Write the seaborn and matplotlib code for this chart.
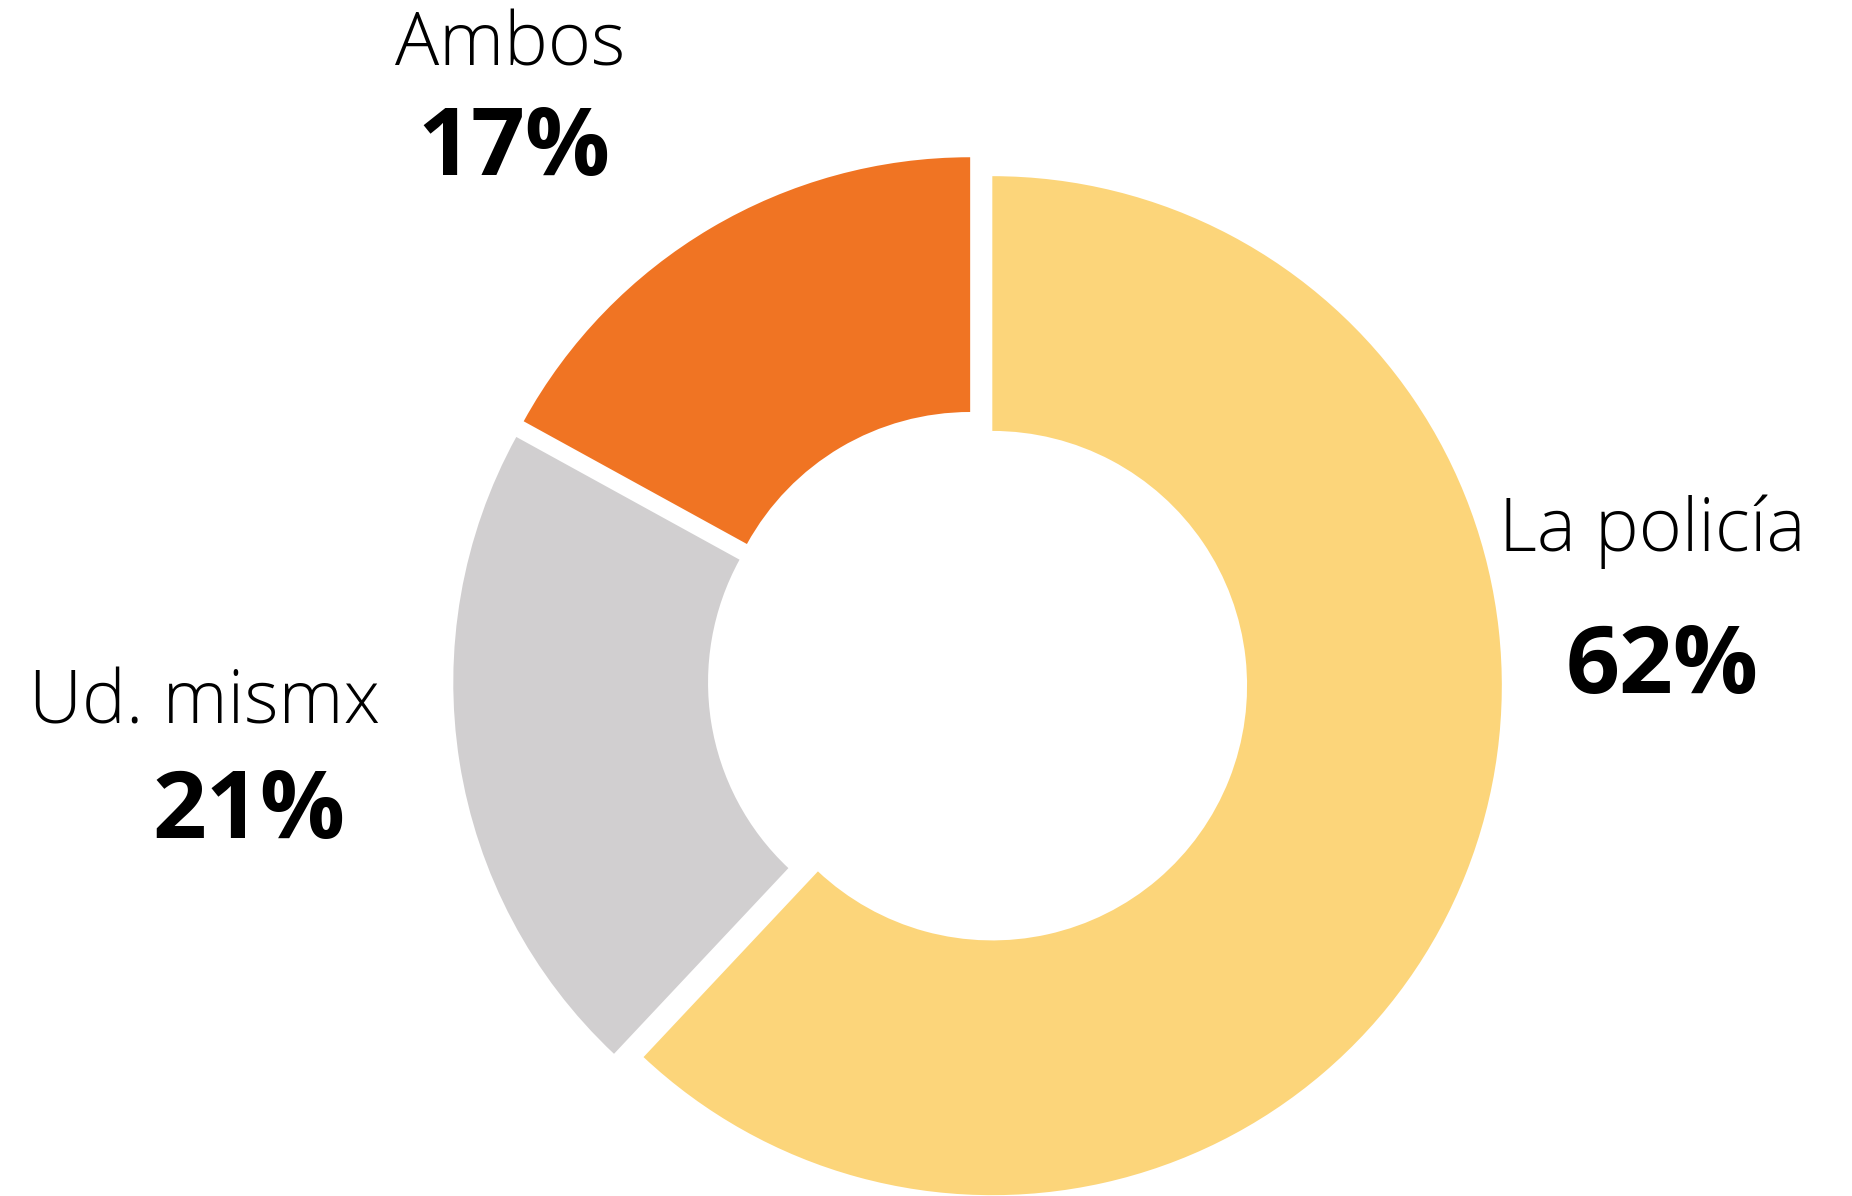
import matplotlib
matplotlib.use("Agg")
import matplotlib.pyplot as plt
import seaborn as sns

# Data
categories = ["La policía", "Ud. mismx", "Ambos"]
shares = [62, 21, 17]
colors = ["#FCD57A", "#D1CFD0", "#F07423"]

sns.set_theme(style="white")
plt.rcParams['font.family'] = ['Open Sans', 'DejaVu Sans']

fig = plt.figure(figsize=(18.52, 11.96), dpi=100)
ax = fig.add_axes([0, 0, 1, 1])

# Donut, pieces pulled apart a little (explode is in data units here)
radius = 509.5
ax.pie(shares, colors=colors, startangle=90, counterclock=False,
       center=(978, 516), radius=radius, explode=[15.4] * len(shares),
       wedgeprops=dict(width=radius * 0.5, linewidth=0), frame=True)
ax.set_xlim(0, 1852)
ax.set_ylim(0, 1196)
ax.set_aspect('equal')
ax.axis('off')

# Label positions (x centre, label baseline, value baseline) in pixels
label_pos = [(1652, 645, 503), (205, 473, 358), (510, 1131, 1021)]
value_dx = [10, 44, 4]

for cat, val, (x, yl, yv), dx in zip(categories, shares, label_pos, value_dx):
    ax.text(x, yl, cat, ha='center', va='baseline', fontsize=53,
            fontweight='light', color='black')
    ax.text(x + dx, yv, f"{val}%", ha='center', va='baseline', fontsize=68,
            fontweight='bold', color='black')

fig.savefig("out.png", dpi=100, facecolor='white')
